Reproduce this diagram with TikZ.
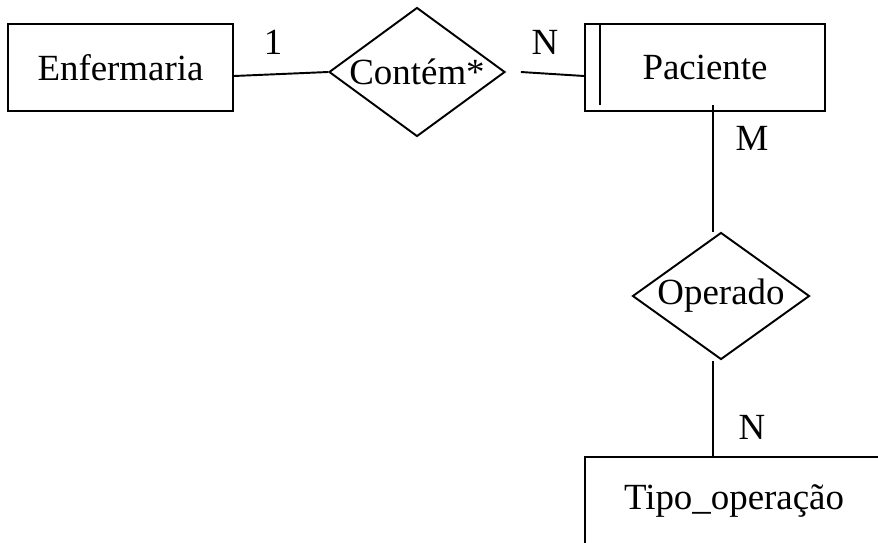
\documentclass[tikz,border=0pt]{standalone}
\usepackage{fontspec}
\setmainfont{Liberation Serif}
\usetikzlibrary{shapes.geometric}
\usetikzlibrary{calc}

\begin{document}
\begin{tikzpicture}[x=0.02cm,y=-0.02cm,line width=1.1pt,
	font=\fontsize{21}{25}\selectfont,
	entidade/.style={draw,rectangle,minimum height=1.74cm,inner sep=0pt},
	relacao/.style={draw,diamond,inner sep=0pt}]
	\useasboundingbox (0,0) rectangle (878,542);
	\clip (0,0) rectangle (878,542);
	
	\node[entidade,minimum width=4.5cm] (enf) at (120.5,67.5) {Enfermaria};
	\node[entidade,minimum width=4.8cm] (pac) at (705,67.5) {Paciente};
	\node[entidade,minimum width=5.96cm] (tipo) at (734,500.5) {Tipo\_operação};
	
	\node[relacao,minimum width=3.52cm,minimum height=2.58cm,label=center:{Contém*}] (contem) at (417,72) {};
	\node[relacao,minimum width=3.54cm,minimum height=2.54cm,label=center:{Operado}] (oper) at (721,296) {};
	
	% entidade fraca
	\draw ($(pac.north west)+(16,0)$) -- ($(pac.south west)+(16,-7)$);
	
	\draw ($(enf.east)+(0,8.5)$) -- (contem.west);
	\draw ($(contem.east)+(15,0)$) -- ($(pac.west)+(0,8.5)$);
	\draw ($(oper.north)+(-8,0)$) -- ($(pac.south)+(8,-7)$);
	\draw ($(oper.south)+(-8,1)$) -- ($(tipo.north)+(-21,0)$);
	
	\node (c1) at (273,42) {1};
	\node (c2) at (545,42) {N};
	\node (c3) at (752,138) {M};
	\node (c4) at (752,427) {N};
\end{tikzpicture}
\end{document}
